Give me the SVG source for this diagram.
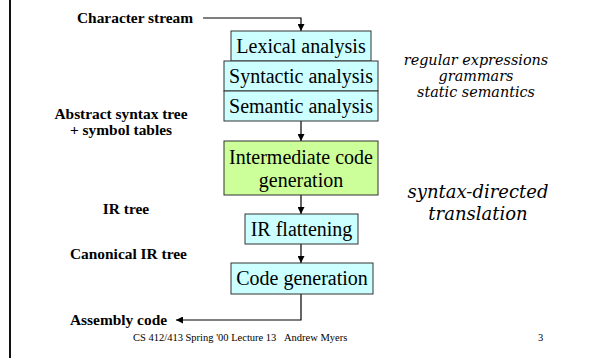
<svg xmlns="http://www.w3.org/2000/svg" width="594" height="358" viewBox="0 0 594 358">
  <style>
    .bg { fill: #ffffff; }
    .box { stroke: #333333; stroke-width: 1; }
    .cyan { fill: #ccffff; }
    .green { fill: #ccff99; }
    .boxText { font-family: "Liberation Serif", "Times New Roman", serif; font-size: 20px; fill: #000; text-anchor: middle; }
    .label { font-family: "Liberation Serif", "Times New Roman", serif; font-size: 15.4px; font-weight: bold; fill: #000; }
    .note { font-family: "DejaVu Serif", "Liberation Serif", serif; font-style: italic; font-size: 14.4px; fill: #000; text-anchor: middle; }
    .noteBig { font-family: "DejaVu Serif", "Liberation Serif", serif; font-style: italic; font-size: 18px; fill: #000; text-anchor: middle; }
    .footer { font-family: "Liberation Serif", "Times New Roman", serif; font-size: 10.5px; fill: #000; }
    .wire { fill: none; stroke: #000; stroke-width: 1.2; }
  </style>
  <defs>
    <marker id="arrow" viewBox="0 0 10 10" refX="10" refY="5" markerWidth="7" markerHeight="7" markerUnits="userSpaceOnUse" orient="auto">
      <path d="M0,0 L10,5 L0,10 z" fill="#000"/>
    </marker>
  </defs>

  <rect class="bg" x="0" y="0" width="594" height="358"/>
  <!-- slide margin rule -->
  <rect x="9" y="0" width="2" height="358" fill="#111"/>

  <!-- connectors -->
  <g id="connectors">
    <path class="wire" d="M203,18 H301 V31" marker-end="url(#arrow)"/>
    <path class="wire" d="M301,121 V141" marker-end="url(#arrow)"/>
    <path class="wire" d="M301,195 V214" marker-end="url(#arrow)"/>
    <path class="wire" d="M301,244 V263" marker-end="url(#arrow)"/>
    <path class="wire" d="M301,294 V320 H176" marker-end="url(#arrow)"/>
  </g>

  <!-- compiler phases -->
  <g id="lexical">
    <rect class="box cyan" x="231" y="31" width="140" height="30"/>
    <text class="boxText" x="301" y="53">Lexical analysis</text>
  </g>
  <g id="syntactic">
    <rect class="box cyan" x="224" y="61" width="154" height="30"/>
    <text class="boxText" x="301" y="83">Syntactic analysis</text>
  </g>
  <g id="semantic">
    <rect class="box cyan" x="224" y="91" width="154" height="30"/>
    <text class="boxText" x="301" y="113">Semantic analysis</text>
  </g>
  <g id="intermediate">
    <rect class="box green" x="224" y="141" width="154" height="54"/>
    <text class="boxText" x="301" y="164">Intermediate code</text>
    <text class="boxText" x="301" y="187">generation</text>
  </g>
  <g id="flattening">
    <rect class="box cyan" x="245" y="214" width="113" height="30"/>
    <text class="boxText" x="301.5" y="236">IR flattening</text>
  </g>
  <g id="codegen">
    <rect class="box cyan" x="231" y="263" width="142" height="31"/>
    <text class="boxText" x="302" y="285">Code generation</text>
  </g>

  <!-- intermediate representations -->
  <g id="labels">
    <text class="label" x="77" y="23">Character stream</text>
    <text class="label" x="121" y="119" text-anchor="middle">Abstract syntax tree</text>
    <text class="label" x="121" y="135" text-anchor="middle">+ symbol tables</text>
    <text class="label" x="126" y="214" text-anchor="middle">IR tree</text>
    <text class="label" x="70" y="259">Canonical IR tree</text>
    <text class="label" x="70" y="325">Assembly code</text>
  </g>

  <!-- formalisms -->
  <g id="notes">
    <text class="note" x="476" y="65">regular expressions</text>
    <text class="note" x="476" y="81">grammars</text>
    <text class="note" x="476" y="97">static semantics</text>
    <text class="noteBig" x="478" y="198">syntax-directed</text>
    <text class="noteBig" x="478" y="220">translation</text>
  </g>

  <g id="footer">
    <text class="footer" x="133" y="341">CS 412/413 Spring '00 Lecture 13</text>
    <text class="footer" x="284" y="341">Andrew Myers</text>
    <text class="footer" x="538" y="341">3</text>
  </g>
</svg>
